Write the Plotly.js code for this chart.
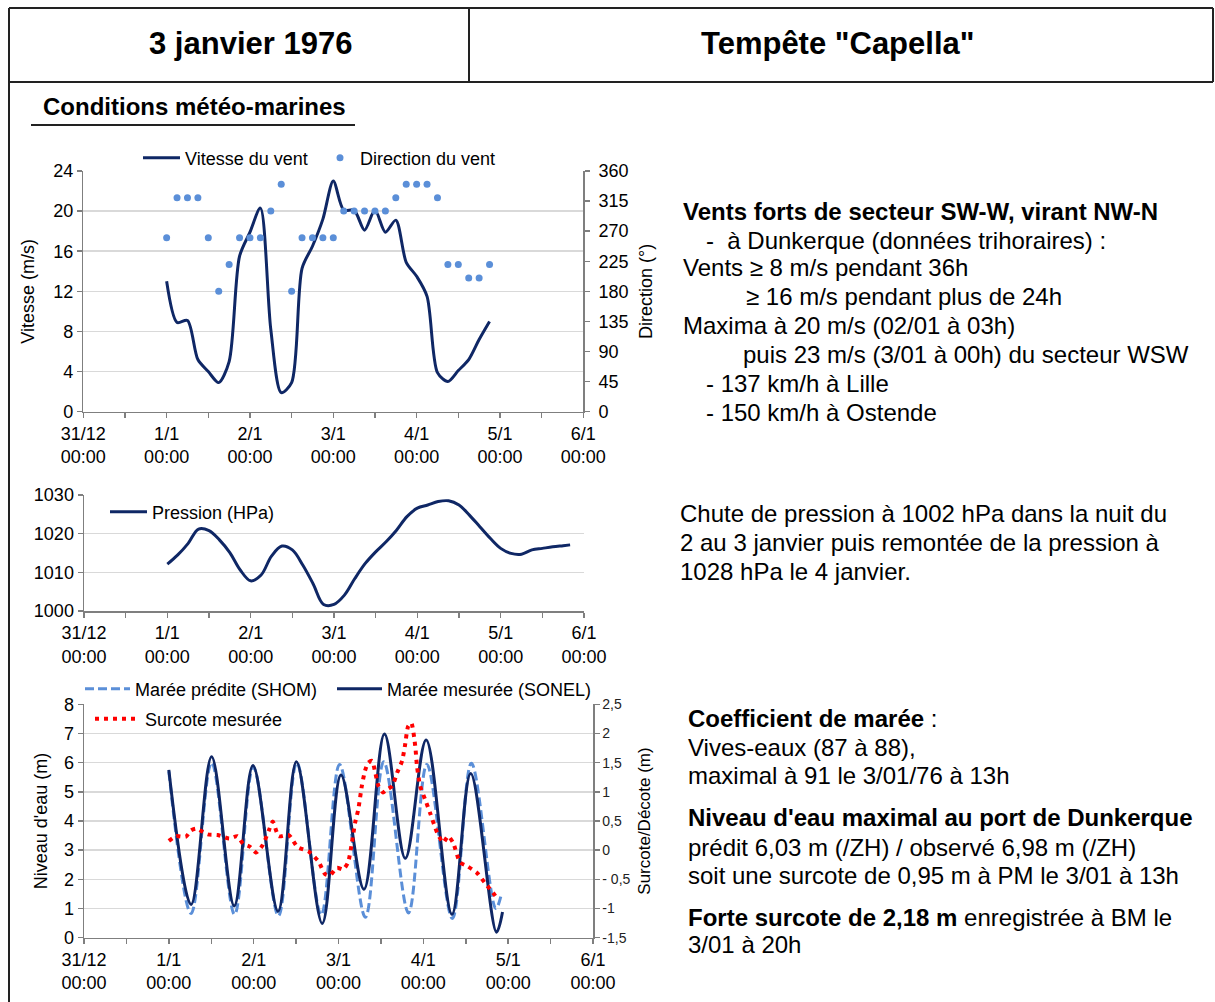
<!DOCTYPE html>
<html><head><meta charset="utf-8">
<script src="https://cdn.plot.ly/plotly-3.0.1.min.js"></script>
<style>html,body{margin:0;padding:0;background:#fff;}#chart{width:1215px;height:1002px;}</style>
</head><body><div id="chart"></div>
<script>
// ---------- DATA ----------
// hours counted from 31/12 00:00
const dayTickVals = [0, 24, 48, 72, 96, 120, 144];
const dayTickText = ['31/12<br>00:00', '1/1<br>00:00', '2/1<br>00:00', '3/1<br>00:00', '4/1<br>00:00', '5/1<br>00:00', '6/1<br>00:00'];

const windHours = [24,27,30,33,36,39,42,45,48,51,54,57,60,63,66,69,72,75,78,81,84,87,90,93,96,99,102,105,108,111,114,117];
const windSpeed = [13,8.9,9.1,5.2,4.0,2.9,5.0,15.5,17.9,20.3,8.2,1.9,2.9,14.3,16.5,19.2,23,20.1,20.1,18.1,20.1,17.9,19.1,14.9,13.5,11.5,3.9,3.0,4.1,5.2,7.2,9.0];
const windDir = [260,320,320,320,260,180,220,260,260,260,300,340,180,260,260,260,260,300,300,300,300,300,320,340,340,340,320,220,220,200,200,220];

const pressureHours = [24,27,30,33,36,39,42,45,48,51,54,57,60,63,66,69,72,75,78,81,84,87,90,93,96,99,102,105,108,111,114,117,120,123,126,129,132,135,138,140];
const pressure = [1012.1,1014.5,1017.5,1021.2,1020.8,1018.4,1015.1,1010.6,1007.8,1009.3,1014.2,1016.8,1015.8,1011.9,1007.0,1001.7,1001.7,1004.1,1008.4,1012.3,1015.3,1017.9,1020.9,1024.4,1026.6,1027.4,1028.3,1028.5,1027.4,1024.8,1021.8,1018.8,1016.2,1014.9,1014.7,1015.8,1016.2,1016.6,1016.9,1017.1];

const predHours = [24,30.3,36.1,42.6,47.9,55.0,60.2,67.1,72.3,79.6,84.8,91.8,97.0,104.2,109.6,116.5,118.1];
const predLevel = [5.7,0.83,6.0,0.8,5.85,0.75,6.0,0.78,5.94,0.7,6.03,0.85,5.94,0.66,5.98,1.0,1.5];
const measHours = [24,30.3,36.1,42.5,47.8,54.9,60.1,67.4,72.7,79.2,85.0,90.9,96.8,104.1,109.4,116.7,118.4];
const measLevel = [5.75,1.14,6.2,1.09,5.9,0.91,6.03,0.49,5.58,1.66,6.98,2.72,6.78,0.8,5.63,0.19,0.88];

const surcHours = [24,26,28.8,30.3,31.8,35,37.8,41.1,43.4,45,46.9,48.7,50.6,52.3,53.4,55.1,57.9,60.5,63.5,66.3,68.2,69.6,71.6,73.3,74.7,75.8,76.7,77.6,78.6,79.5,80.4,81.5,82.4,83.3,84.6,85.7,87.2,88.6,90,90.8,91.7,92.6,93.7,94.2,95.1,96.5,97.9,99.9,101.6,103,104.4,106.4,108.3,111.2,113.4,115.7,117.1];
const surcVal = [0.16,0.24,0.23,0.34,0.37,0.27,0.26,0.2,0.24,0.11,0.06,-0.04,0.09,0.34,0.49,0.24,0.26,0.05,-0.02,-0.19,-0.41,-0.43,-0.3,-0.33,-0.21,0.13,0.47,0.7,1.1,1.36,1.5,1.53,1.33,1.1,0.99,1.04,1.1,1.33,1.53,1.79,2.12,2.18,1.79,1.44,1.1,0.87,0.64,0.3,0.13,0.24,0.13,-0.21,-0.27,-0.39,-0.56,-0.73,-0.84];

const surcTickVals = [-1.5,-1,-0.5,0,0.5,1,1.5,2,2.5];
const surcTickText = ['-1,5','-1','- 0,5','0','0,5','1','1,5','2','2,5'];

// ---------- STYLE ----------
const W = 1215, H = 1002;
const FONT = 'Liberation Sans, Arial, sans-serif';
const NAVY = '#0F2765', LBLUE = '#5B8FD8', GRID = '#D9D9D9', AX = '#7F7F7F';
const fx = px => px / W;
const fy = py => 1 - py / H;

function xAxis(x0, x1, anchor) {
  return {domain:[fx(x0), fx(x1)], anchor, range:[0,144], tickmode:'array', tickvals:dayTickVals, ticktext:dayTickText,
    ticks:'outside', ticklen:5, tickwidth:1.5, tickcolor:AX, showline:true, linecolor:AX, linewidth:1.5,
    showgrid:false, zeroline:false, tickfont:{family:FONT, size:18, color:'#000'},
    minor:{tickmode:'linear', tick0:0, dtick:12, ticks:'outside', ticklen:5, tickwidth:1.5, tickcolor:AX, showgrid:false},
    fixedrange:true};
}
function yAxis(y0, y1, anchor, range, dtick, extra) {
  return Object.assign({domain:[fy(y1), fy(y0)], anchor, range, dtick, tickmode:'linear', tick0:range[0],
    ticks:'outside', ticklen:5, tickwidth:1.5, tickcolor:AX, showline:true, linecolor:AX, linewidth:1.5,
    showgrid:true, gridcolor:GRID, gridwidth:1.5, zeroline:false, tickfont:{family:FONT, size:18, color:'#000'},
    fixedrange:true}, extra || {});
}

const traces = [
  {x:windHours, y:windSpeed, type:'scatter', mode:'lines', name:'Vitesse du vent', line:{color:NAVY, width:3, shape:'spline', smoothing:0.8}, xaxis:'x', yaxis:'y', legend:'legend'},
  {x:windHours, y:windDir, type:'scatter', mode:'markers', name:'Direction du vent', marker:{color:LBLUE, size:7}, xaxis:'x', yaxis:'y2', legend:'legend6'},
  {x:pressureHours, y:pressure, type:'scatter', mode:'lines', name:'Pression (HPa)', line:{color:NAVY, width:3, shape:'spline', smoothing:1}, xaxis:'x2', yaxis:'y3', legend:'legend2'},
  {x:predHours, y:predLevel, type:'scatter', mode:'lines', name:'Marée prédite (SHOM)', line:{color:LBLUE, width:3, dash:'9px,4px', shape:'spline', smoothing:1}, xaxis:'x3', yaxis:'y4', legend:'legend3'},
  {x:measHours, y:measLevel, type:'scatter', mode:'lines', name:'Marée mesurée (SONEL)', line:{color:NAVY, width:3, shape:'spline', smoothing:1}, xaxis:'x3', yaxis:'y4', legend:'legend5'},
  {x:surcHours, y:surcVal, type:'scatter', mode:'lines', name:'Surcote mesurée', line:{color:'#FF0000', width:4, dash:'4px,5px', shape:'spline', smoothing:0.6}, xaxis:'x3', yaxis:'y5', legend:'legend4'}
];

const legFont = {family:FONT, size:18, color:'#000'};
function leg(x, y, extra) {
  return Object.assign({x:fx(x), y:fy(y), xanchor:'left', yanchor:'middle', orientation:'h', bgcolor:'rgba(0,0,0,0)', borderwidth:0, font:legFont, itemclick:false, itemdoubleclick:false}, extra || {});
}

const frameLine = {color:'#222', width:2};
function seg(x0, y0, x1, y1, line) {
  return {type:'line', xref:'paper', yref:'paper', x0:fx(x0), y0:fy(y0), x1:fx(x1), y1:fy(y1), line: line || frameLine};
}
const shapes = [
  seg(9, 8, 1213, 8), seg(9, 8, 9, 1002), seg(1213, 8, 1213, 82), seg(9, 82, 1213, 82), seg(469, 8, 469, 82),
  seg(31, 125, 355, 125, {color:'#222', width:2})
];

function note(text, x, y, size, bold, anchor) {
  return {text: bold ? '<b>' + text + '</b>' : text, x:fx(x), y:fy(y), xref:'paper', yref:'paper', xanchor: anchor || 'left', yanchor:'middle', showarrow:false, font:{family:FONT, size, color:'#000'}};
}
const NS = 24;
const annotations = [
  note('3 janvier 1976', 250, 43, 31, true, 'center'),
  note('Tempête "Capella"', 838, 43, 31, true, 'center'),
  note('Conditions météo-marines', 41, 106, 24, true),
  note('Vents forts de secteur SW-W, virant NW-N', 681, 211, NS, true),
  note('-  à Dunkerque (données trihoraires) :', 704, 240, NS),
  note('Vents ≥ 8 m/s pendant 36h', 681, 268, NS),
  note('≥ 16 m/s pendant plus de 24h', 744, 297, NS),
  note('Maxima à 20 m/s (02/01 à 03h)', 681, 326, NS),
  note('puis 23 m/s (3/01 à 00h) du secteur WSW', 741, 354, NS),
  note('- 137 km/h à Lille', 704, 383, NS),
  note('- 150 km/h à Ostende', 704, 412, NS),
  note('Chute de pression à 1002 hPa dans la nuit du', 678, 513, NS),
  note('2 au 3 janvier puis remontée de la pression à', 678, 542, NS),
  note('1028 hPa le 4 janvier.', 678, 571, NS),
  note('<b>Coefficient de marée</b> :', 686, 718, NS),
  note('Vives-eaux (87 à 88),', 686, 747, NS),
  note('maximal à 91 le 3/01/76 à 13h', 686, 775, NS),
  note('Niveau d\'eau maximal au port de Dunkerque', 686, 817, NS, true),
  note('prédit 6,03 m (/ZH) / observé 6,98 m (/ZH)', 686, 847, NS),
  note('soit une surcote de 0,95 m à PM le 3/01 à 13h', 686, 875, NS),
  note('<b>Forte surcote de 2,18 m</b> enregistrée à BM le', 686, 917, NS),
  note('3/01 à 20h', 686, 944, NS)
];

const layout = {
  width:W, height:H, margin:{l:0, r:0, t:0, b:0}, paper_bgcolor:'#fff', plot_bgcolor:'rgba(0,0,0,0)',
  font:{family:FONT, size:18, color:'#000'}, separators:', ',
  showlegend:true,
  xaxis: xAxis(83.3, 583.3, 'y'),
  yaxis: yAxis(171, 411.7, 'x', [0,24], 4, {title:{text:'Vitesse (m/s)', font:{family:FONT, size:18}, standoff:14}}),
  yaxis2: {overlaying:'y', side:'right', anchor:'x', range:[0,360], dtick:45, tick0:0, tickmode:'linear', ticks:'outside', ticklen:5, tickwidth:1.5, tickcolor:AX, showline:true, linecolor:AX, linewidth:1.5, showgrid:false, zeroline:false, ticklabelstandoff:5, tickfont:{family:FONT, size:18, color:'#000'}, title:{text:'Direction (°)', font:{family:FONT, size:18}, standoff:12}, fixedrange:true},
  xaxis2: xAxis(84, 584, 'y3'),
  yaxis3: yAxis(495, 611, 'x2', [1000,1030], 10),
  xaxis3: xAxis(84, 593, 'y4'),
  yaxis4: yAxis(704.3, 937.7, 'x3', [0,8], 1, {title:{text:'Niveau d\'eau (m)', font:{family:FONT, size:18}, standoff:11}}),
  yaxis5: {overlaying:'y4', side:'right', anchor:'x3', range:[-1.5,2.5], tickmode:'array', tickvals:surcTickVals, ticktext:surcTickText, ticks:'outside', ticklen:5, tickwidth:1.5, tickcolor:AX, showline:true, linecolor:AX, linewidth:1.5, showgrid:false, zeroline:false, tickfont:{family:FONT, size:14, color:'#222'}, title:{text:'Surcote/Décote (m)', font:{family:FONT, size:17}, standoff:8}, fixedrange:true},
  legend: leg(138, 158, {itemwidth:37}),
  legend6: leg(320, 158, {itemwidth:30}),
  legend2: leg(105, 512, {itemwidth:37}),
  legend3: leg(80, 689, {itemwidth:45}),
  legend5: leg(332, 689, {itemwidth:45}),
  legend4: leg(90, 719, {itemwidth:45}),
  shapes, annotations
};

Plotly.newPlot('chart', traces, layout, {staticPlot:true, displayModeBar:false});
</script>
</body></html>
